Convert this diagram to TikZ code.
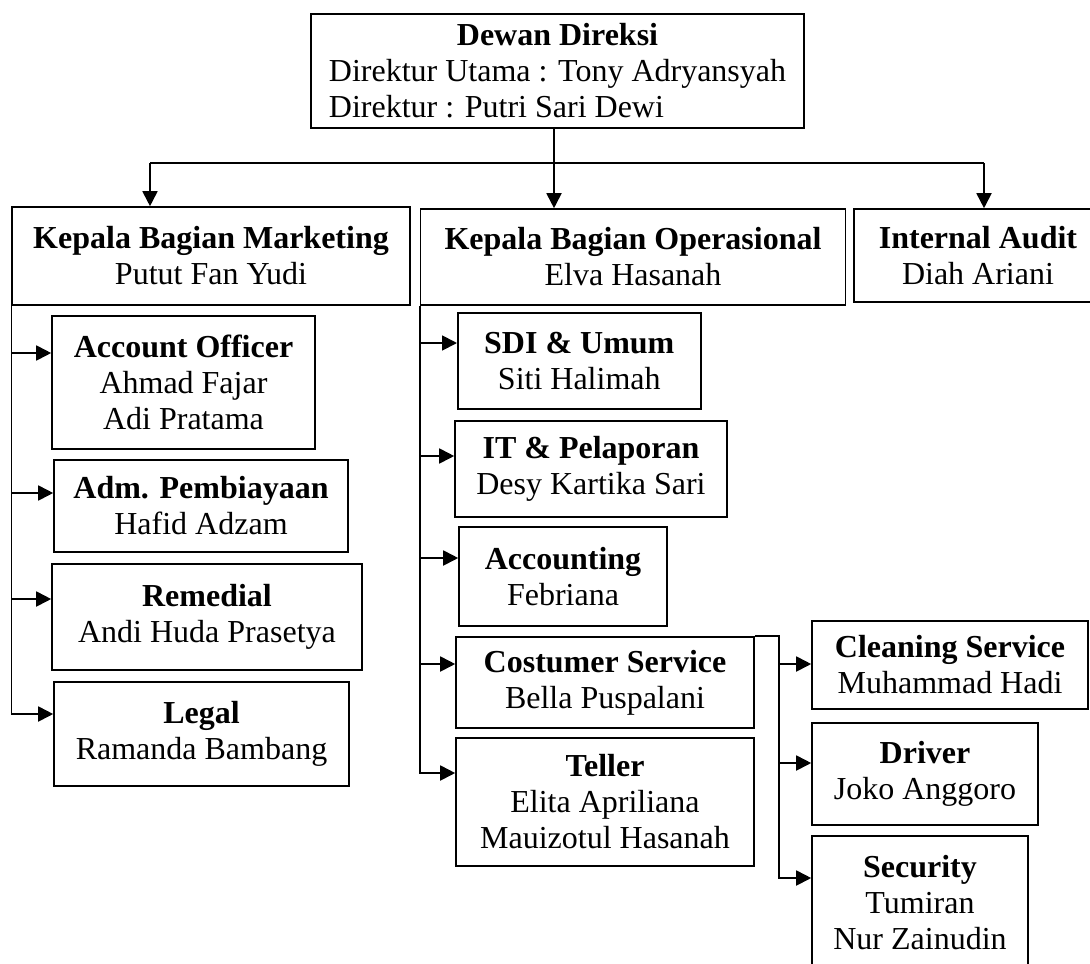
\documentclass[tikz,border=0pt]{standalone}
\usepackage{fontspec}
\setmainfont{Liberation Serif}
\usetikzlibrary{arrows.meta}
\tikzset{
  orgbox/.style 2 args={draw, line width=0.8pt, align=center, inner sep=0pt,
    minimum width=#1*0.5pt, minimum height=#2*0.5pt,
    font=\fontsize{16}{18}\selectfont},
  link/.style={line width=0.9pt},
  arr/.style={line width=0.9pt, -{Triangle[length=7.5pt,width=7.5pt]}},
}
\begin{document}
\begin{tikzpicture}[x=0.5pt,y=-0.5pt]
\path[use as bounding box] (0,0) rectangle (1090,963);
\clip (0,0) rectangle (1090,963);

% top level
\node[orgbox={493}{112}] (dd) at (557.5,71) {\begin{tabular}{@{}l@{}}\multicolumn{1}{@{}c@{}}{\rule{0pt}{15.6pt}\textbf{Dewan Direksi}}\\Direktur Utama : Tony Adryansyah\\Direktur : Putri Sari Dewi\end{tabular}};
\node[orgbox={397.5}{98}] (mkt) at (211,256) {\textbf{Kepala Bagian Marketing}\\Putut Fan Yudi};
\node[orgbox={425}{96}] (ops) at (633,257) {\textbf{Kepala Bagian Operasional}\\Elva Hasanah};
\node[orgbox={248}{93}] (ia) at (978,255.5) {\textbf{Internal Audit}\\Diah Ariani};

% marketing
\node[orgbox={263}{133}] (ao) at (183.5,382.5) {\textbf{Account Officer}\\Ahmad Fajar\\Adi Pratama};
\node[orgbox={294}{92}] (adm) at (201,506) {\textbf{Adm. Pembiayaan}\\Hafid Adzam};
\node[orgbox={310}{106}] (rem) at (207,617) {\textbf{Remedial}\\Andi Huda Prasetya};
\node[orgbox={295}{104}] (leg) at (201.5,734) {\textbf{Legal}\\Ramanda Bambang};

% operasional
\node[orgbox={243}{96}] (sdi) at (579.3,361) {\textbf{SDI \& Umum}\\Siti Halimah};
\node[orgbox={272}{96}] (it) at (591,469) {\textbf{IT \& Pelaporan}\\Desy Kartika Sari};
\node[orgbox={208}{99}] (acc) at (563,576.5) {\textbf{Accounting}\\Febriana};
\node[orgbox={298}{91}] (cs) at (605,682.5) {\textbf{Costumer Service}\\Bella Puspalani};
\node[orgbox={298}{128}] (tel) at (605,802) {\textbf{Teller}\\Elita Apriliana\\Mauizotul Hasanah};

% support
\node[orgbox={276}{88}] (cln) at (950,665) {\textbf{Cleaning Service}\\Muhammad Hadi};
\node[orgbox={226}{102}] (drv) at (925,774) {\textbf{Driver}\\Joko Anggoro};
\node[orgbox={216}{134}] (sec) at (920,903) {\textbf{Security}\\Tumiran\\Nur Zainudin};

% top connectors
\coordinate (hl) at (150,163);
\coordinate (hm) at (554,163);
\coordinate (hr) at (984,163);
\draw[link] (hm |- dd.south) -- (hm);
\draw[link] (hl) -- (hr);
\draw[arr] (hl) -- (hl |- mkt.north);
\draw[arr] (hm) -- (hm |- ops.north);
\draw[arr] (hr) -- (hr |- ia.north);

% marketing connectors
\coordinate (aoin) at (ao.west |- 0,353);
\coordinate (admin) at (adm.west |- 0,493);
\coordinate (remin) at (rem.west |- 0,599);
\coordinate (legin) at (leg.west |- 0,714);
\draw[arr] (mkt.south west) |- (legin);
\draw[arr] (mkt.south west |- aoin) -- (aoin);
\draw[arr] (mkt.south west |- admin) -- (admin);
\draw[arr] (mkt.south west |- remin) -- (remin);

% operasional connectors
\coordinate (sdiin) at (sdi.west |- 0,343);
\coordinate (itin) at (it.west |- 0,456);
\coordinate (accin) at (acc.west |- 0,558);
\coordinate (csin) at (cs.west |- 0,664);
\coordinate (telin) at (tel.west |- 0,773);
\draw[arr] (ops.south west) |- (telin);
\draw[arr] (ops.south west |- sdiin) -- (sdiin);
\draw[arr] (ops.south west |- itin) -- (itin);
\draw[arr] (ops.south west |- accin) -- (accin);
\draw[arr] (ops.south west |- csin) -- (csin);

% support connectors
\coordinate (br) at ([xshift=12pt]cs.north east);
\coordinate (clnin) at (cln.west |- 0,664);
\coordinate (drvin) at (drv.west |- 0,763);
\coordinate (secin) at (sec.west |- 0,878);
\draw[arr] (cs.north east) -- (br) |- (secin);
\draw[arr] (br |- clnin) -- (clnin);
\draw[arr] (br |- drvin) -- (drvin);
\end{tikzpicture}
\end{document}
